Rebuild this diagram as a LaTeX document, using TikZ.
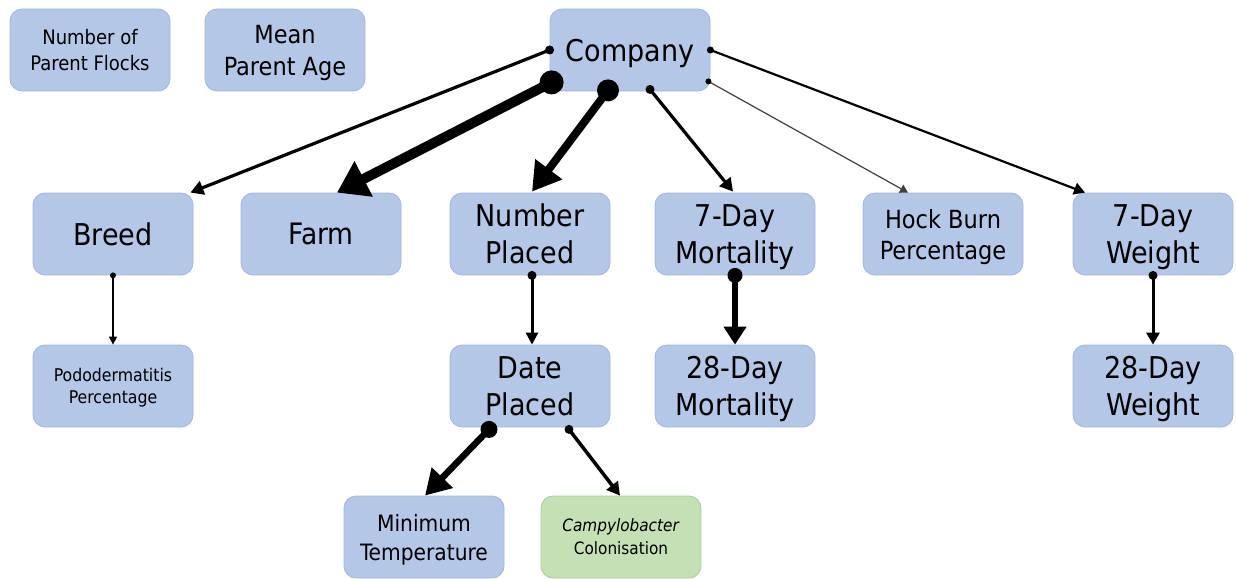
\documentclass[tikz,border=0pt]{standalone}
\usepackage{fontspec}
\setmainfont{DejaVu Sans Condensed}
\usetikzlibrary{arrows.meta}
\definecolor{boxblue}{HTML}{B4C7E7}
\definecolor{boxblueline}{HTML}{9FB6E0}
\definecolor{boxgreen}{HTML}{C5E0B4}
\definecolor{boxgreenline}{HTML}{A9CC94}
\definecolor{thinline}{HTML}{404040}
\tikzset{
  box/.style={draw=boxblueline, fill=boxblue, line width=0.8pt, rounded corners=12pt,
    minimum width=160pt, minimum height=82pt, inner sep=0pt, align=center, text=black,
    text depth=0pt},
  gbox/.style={box, draw=boxgreenline, fill=boxgreen},
  fsz/.style 2 args={font=\fontsize{#1}{#2}\selectfont},
  conn/.style={line cap=butt, line join=miter}
}
\begin{document}
\begin{tikzpicture}[x=1pt,y=-1pt]
\useasboundingbox (0,0) rectangle (1236,578);
\fill[white] (0,0) rectangle (1236,578);
% nodes
\node[box, fsz={20}{26}] (npf) at (90,50) {Number of\\Parent Flocks};
\node[box, fsz={25}{32}] (mpa) at (285,50) {Mean\\Parent Age};
\node[box, fsz={30}{36}] (company) at (630,50) {Company};
\node[box, fsz={30}{36}] (breed) at (113,234) {Breed};
\node[box, fsz={29.5}{36}] (farm) at (321,234) {Farm};
\node[box, fsz={30}{37}] (np) at (530,234) {Number\\Placed};
\node[box, fsz={30}{37}] (dm7) at (735,234) {7-Day\\Mortality};
\node[box, fsz={25}{31}] (hock) at (943,234) {Hock Burn\\Percentage};
\node[box, fsz={30}{37}] (dw7) at (1153,234) {7-Day\\Weight};
\node[box, fsz={17.5}{22}] (podo) at (113,386) {Pododermatitis\\Percentage};
\node[box, fsz={30}{37}] (dp) at (530,386) {Date\\Placed};
\node[box, fsz={30}{37}] (dm28) at (735,386) {28-Day\\Mortality};
\node[box, fsz={30}{37}] (dw28) at (1153,386) {28-Day\\Weight};
\node[box, fsz={22.5}{29}] (mint) at (424,537) {Minimum\\Temperature};
\node[gbox, fsz={17}{23}] (campy) at (621,537) {\textit{Campylobacter}\\Colonisation};
% start / end coordinates
\coordinate (s1) at (company.west);
\coordinate (e1) at ([shift={(-3,0)}]breed.north east);
\coordinate (s2) at ([shift={(2,-9)}]company.south west);
\coordinate (e2) at ([shift={(16,0)}]farm.north);
\coordinate (s3) at ([shift={(-22,-1)}]company.south);
\coordinate (e3) at ([shift={(2,-1)}]np.north);
\coordinate (s4) at ([shift={(20,-2)}]company.south);
\coordinate (e4) at ([shift={(-2,-1)}]dm7.north);
\coordinate (s5) at ([shift={(-2,-10)}]company.south east);
\coordinate (e5) at ([shift={(-35,0)}]hock.north);
\coordinate (s6) at (company.east);
\coordinate (e6) at ([shift={(-68,0)}]dw7.north);
\coordinate (s7) at (breed.south);
\coordinate (e7) at (podo.north);
\coordinate (s8) at ([shift={(2,0)}]np.south);
\coordinate (e8) at ([shift={(2,0)}]dp.north);
\coordinate (s9) at (dm7.south);
\coordinate (e9) at (dm28.north);
\coordinate (s10) at (dw7.south);
\coordinate (e10) at (dw28.north);
\coordinate (s11) at ([shift={(-41,2)}]dp.south);
\coordinate (e11) at ([shift={(1,0)}]mint.north);
\coordinate (s12) at ([shift={(39,2)}]dp.south);
\coordinate (e12) at ([shift={(-1,0)}]campy.north);
% connectors
\draw[conn, line width=3.2pt, -{Triangle[length=13pt,width=14pt]}] (s1) -- (e1);
\fill (s1) circle (4.5pt);
\draw[conn, line width=10pt, -{Triangle[length=30pt,width=38pt]}] (s2) -- (e2);
\fill (s2) circle (12pt);
\draw[conn, line width=8pt, -{Triangle[length=28pt,width=32pt]}] (s3) -- (e3);
\fill (s3) circle (11pt);
\draw[conn, line width=3.2pt, -{Triangle[length=13pt,width=14pt]}] (s4) -- (e4);
\fill (s4) circle (4.5pt);
\draw[conn, line width=1.2pt, draw=thinline, -{Triangle[length=8pt,width=9pt]}] (s5) -- (e5);
\fill (s5) circle (3pt);
\draw[conn, line width=2.2pt, -{Triangle[length=11pt,width=12pt]}] (s6) -- (e6);
\fill (s6) circle (3.5pt);
\draw[conn, line width=1.5pt, -{Triangle[length=8pt,width=8pt]}] (s7) -- (e7);
\fill (s7) circle (3pt);
\draw[conn, line width=3pt, -{Triangle[length=12pt,width=12pt]}] (s8) -- (e8);
\fill (s8) circle (4.5pt);
\draw[conn, line width=6pt, -{Triangle[length=18pt,width=22pt]}] (s9) -- (e9);
\fill (s9) circle (7.5pt);
\draw[conn, line width=3pt, -{Triangle[length=12pt,width=13pt]}] (s10) -- (e10);
\fill (s10) circle (4.5pt);
\draw[conn, line width=6.5pt, -{Triangle[length=25pt,width=28pt]}] (s11) -- (e11);
\fill (s11) circle (8.5pt);
\draw[conn, line width=3.5pt, -{Triangle[length=13pt,width=14pt]}] (s12) -- (e12);
\fill (s12) circle (4.5pt);
\end{tikzpicture}
\end{document}
